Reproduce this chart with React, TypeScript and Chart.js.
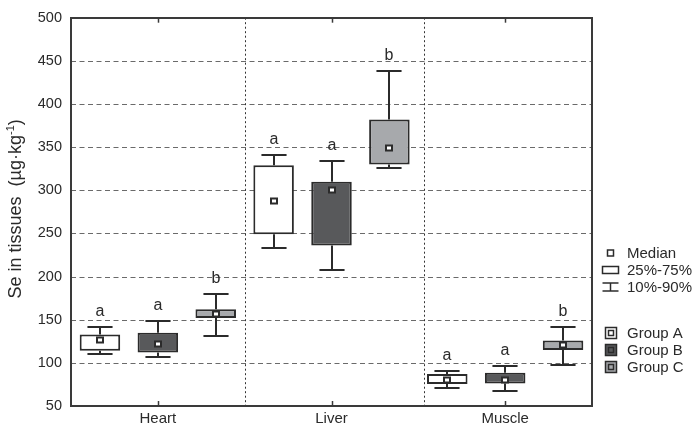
import { useEffect, useRef } from 'react';
import { Chart, registerables } from 'chart.js';

Chart.register(...registerables);

// ---------- data ----------
const categories = ['Heart', 'Liver', 'Muscle'];
const groupNames = ['Group A', 'Group B', 'Group C'];
const groupFills = ['#ffffff', '#58595b', '#a7a9ac'];

// 10th percentile, 25th, median, 75th, 90th per category
const groupA_p10 = [110, 233, 71];
const groupA_q1 = [114, 249, 75.5];
const groupA_med = [126, 288, 80];
const groupA_q3 = [133, 329, 87];
const groupA_p90 = [141, 341, 90];
const groupA_letters = ['a', 'a', 'a'];

const groupB_p10 = [107, 208, 67];
const groupB_q1 = [112, 236, 76];
const groupB_med = [122, 300, 80];
const groupB_q3 = [135, 310, 88.5];
const groupB_p90 = [148, 334, 96];
const groupB_letters = ['a', 'a', 'a'];

const groupC_p10 = [131, 326, 98];
const groupC_q1 = [152, 330, 115];
const groupC_med = [157, 349, 121];
const groupC_q3 = [162, 382, 126];
const groupC_p90 = [180, 438, 141];
const groupC_letters = ['b', 'b', 'b'];

const yMin = 50;
const yMax = 500;
const yStep = 50;
// category dividers, in category-index units
const dividers = [0.5, 1.53];

const legendStats = ['Median', '25%-75%', '10%-90%'];

// ---------- styling ----------
const FONT = '"Liberation Sans", Arial, Helvetica, sans-serif';
const INK = '#2b2b2b';
const TEXT = '#2a2a2a';

const stats = [
  { p10: groupA_p10, q1: groupA_q1, med: groupA_med, q3: groupA_q3, p90: groupA_p90, letters: groupA_letters },
  { p10: groupB_p10, q1: groupB_q1, med: groupB_med, q3: groupB_q3, p90: groupB_p90, letters: groupB_letters },
  { p10: groupC_p10, q1: groupC_q1, med: groupC_med, q3: groupC_q3, p90: groupC_p90, letters: groupC_letters },
];

function line(ctx: CanvasRenderingContext2D, x1: number, y1: number, x2: number, y2: number) {
  ctx.beginPath();
  ctx.moveTo(x1, y1);
  ctx.lineTo(x2, y2);
  ctx.stroke();
}

const boxPlugin = {
  id: 'boxExtras',
  beforeDatasetsDraw(chart: any) {
    const { ctx, chartArea: a, scales } = chart;
    const x = scales.x;
    const y = scales.y;
    ctx.save();
    ctx.strokeStyle = '#6a6a6a';
    ctx.lineWidth = 1;
    ctx.setLineDash([5, 3.5]);
    y.ticks.forEach((t: any) => {
      if (t.value <= yMin || t.value >= yMax) return;
      const py = Math.round(y.getPixelForValue(t.value)) + 0.5;
      line(ctx, a.left, py, a.right, py);
    });
    ctx.strokeStyle = '#333';
    ctx.setLineDash([2, 2.5]);
    dividers.forEach((d) => {
      const px = Math.round(x.getPixelForValue(d)) + 0.5;
      line(ctx, px, a.top, px, a.bottom);
    });
    ctx.restore();
  },
  afterDatasetsDraw(chart: any) {
    const { ctx, chartArea: a, scales } = chart;
    const x = scales.x;
    const y = scales.y;
    ctx.save();
    chart.data.datasets.forEach((_ds: any, di: number) => {
      const meta = chart.getDatasetMeta(di);
      const s = stats[di];
      meta.data.forEach((bar: any, i: number) => {
        const { x: bx, width } = bar.getProps(['x', 'width'], true);
        const cx = Math.round(bx);
        const cap = width * 0.31;
        const pLo = Math.round(y.getPixelForValue(s.p10[i]));
        const pQ1 = y.getPixelForValue(s.q1[i]);
        const pQ3 = y.getPixelForValue(s.q3[i]);
        const pHi = Math.round(y.getPixelForValue(s.p90[i]));
        const pMed = Math.round(y.getPixelForValue(s.med[i]));
        ctx.strokeStyle = INK;
        ctx.lineWidth = 2;
        ctx.setLineDash([]);
        line(ctx, cx, pQ3, cx, pHi);
        line(ctx, cx, pQ1, cx, pLo);
        line(ctx, cx - cap, pHi, cx + cap, pHi);
        line(ctx, cx - cap, pLo, cx + cap, pLo);
        // median marker
        ctx.fillStyle = INK;
        ctx.fillRect(cx - 4, pMed - 3.5, 8, 7);
        ctx.fillStyle = '#ffffff';
        ctx.fillRect(cx - 2, pMed - 1.5, 4, 3);
        // letter
        ctx.fillStyle = TEXT;
        ctx.font = `16px ${FONT}`;
        ctx.textAlign = 'center';
        ctx.textBaseline = 'alphabetic';
        ctx.fillText(s.letters[i], cx, pHi - 11);
      });
    });

    // frame
    ctx.strokeStyle = '#3a3a3a';
    ctx.lineWidth = 2;
    ctx.strokeRect(Math.round(a.left), Math.round(a.top), Math.round(a.right - a.left), Math.round(a.bottom - a.top));
    // category ticks (top and bottom, inward)
    ctx.lineWidth = 1.5;
    categories.forEach((_c, i) => {
      const px = Math.round(x.getPixelForValue(i)) + 0.5;
      line(ctx, px, a.bottom, px, a.bottom - 5);
      line(ctx, px, a.top, px, a.top + 5);
    });
    ctx.restore();
  },
  afterDraw(chart: any) {
    const { ctx, chartArea: a } = chart;
    ctx.save();
    // y axis title with superscript
    const cy = (a.top + a.bottom) / 2 - 3;
    const cxT = 16;
    const mainFont = `18px ${FONT}`;
    const supFont = `11px ${FONT}`;
    const part1 = 'Se in tissues  (µg·kg';
    const part2 = '-1';
    const part3 = ')';
    ctx.font = mainFont;
    const w1 = ctx.measureText(part1).width;
    const w3 = ctx.measureText(part3).width;
    ctx.font = supFont;
    const w2 = ctx.measureText(part2).width;
    const total = w1 + w2 + w3;
    ctx.translate(cxT, cy);
    ctx.rotate(-Math.PI / 2);
    ctx.fillStyle = TEXT;
    ctx.textBaseline = 'middle';
    ctx.textAlign = 'left';
    let px = -total / 2;
    ctx.font = mainFont;
    ctx.fillText(part1, px, 0);
    px += w1;
    ctx.font = supFont;
    ctx.fillText(part2, px, -5);
    px += w2;
    ctx.font = mainFont;
    ctx.fillText(part3, px, 0);
    ctx.setTransform(1, 0, 0, 1, 0, 0);

    // legend
    const lx = 602.5;
    const tx = 627;
    ctx.strokeStyle = INK;
    ctx.lineWidth = 1.5;
    ctx.fillStyle = TEXT;
    ctx.font = `15px ${FONT}`;
    ctx.textAlign = 'left';
    ctx.textBaseline = 'middle';
    const statY = [253, 270, 287];
    // median icon
    ctx.fillStyle = '#fff';
    ctx.fillRect(607.5, statY[0] - 3, 6, 6);
    ctx.strokeRect(607.5, statY[0] - 3, 6, 6);
    // box icon
    ctx.strokeRect(lx, statY[1] - 3.5, 16, 7);
    // whisker icon
    line(ctx, lx, statY[2] - 4, lx + 16, statY[2] - 4);
    line(ctx, lx, statY[2] + 4, lx + 16, statY[2] + 4);
    line(ctx, lx + 8, statY[2] - 4, lx + 8, statY[2] + 4);
    ctx.fillStyle = TEXT;
    legendStats.forEach((t, i) => ctx.fillText(t, tx, statY[i] + 0.5));

    const groupY = [333, 350, 367];
    groupNames.forEach((g, i) => {
      const gy = groupY[i];
      ctx.fillStyle = groupFills[i];
      ctx.fillRect(605.5, gy - 5.5, 11, 11);
      ctx.strokeStyle = INK;
      ctx.lineWidth = 1.5;
      ctx.strokeRect(605.5, gy - 5.5, 11, 11);
      ctx.strokeRect(608.5, gy - 2.5, 5, 5);
      ctx.fillStyle = TEXT;
      ctx.fillText(g, tx, gy + 0.5);
    });
    ctx.restore();
  },
};

export default function App() {
  const ref = useRef<HTMLCanvasElement | null>(null);
  useEffect(() => {
    if (!ref.current) return;
    const chart = new Chart(ref.current, {
      type: 'bar',
      data: {
        labels: categories,
        datasets: groupNames.map((g, di) => ({
          label: g,
          data: categories.map((_c, i) => [stats[di].q1[i], stats[di].q3[i]]),
          backgroundColor: groupFills[di],
          borderColor: INK,
          borderWidth: 2,
          borderSkipped: false,
          categoryPercentage: 1,
          barPercentage: 0.7,
        })) as any,
      },
      options: {
        responsive: false,
        animation: false,
        devicePixelRatio: 1,
        layout: { padding: { top: 15, right: 108, left: 0, bottom: 0 } },
        plugins: { legend: { display: false }, tooltip: { enabled: false } },
        scales: {
          x: {
            grid: { display: false, drawTicks: false },
            border: { display: false },
            ticks: { color: TEXT, font: { family: FONT, size: 15 }, padding: 4 },
            afterFit: (s: any) => {
              s.height = 24;
            },
          },
          y: {
            min: yMin,
            max: yMax,
            grid: { display: false, drawTicks: false },
            border: { display: false },
            ticks: { stepSize: yStep, color: TEXT, font: { family: FONT, size: 14.5 }, padding: 9 },
            afterFit: (s: any) => {
              s.width = 71;
            },
          },
        },
      },
      plugins: [boxPlugin],
    });
    return () => chart.destroy();
  }, []);
  return (
    <div style={{ position: 'fixed', left: 0, top: 0, width: 700, height: 430, background: '#fff' }}>
      <canvas ref={ref} width={700} height={430} />
    </div>
  );
}
